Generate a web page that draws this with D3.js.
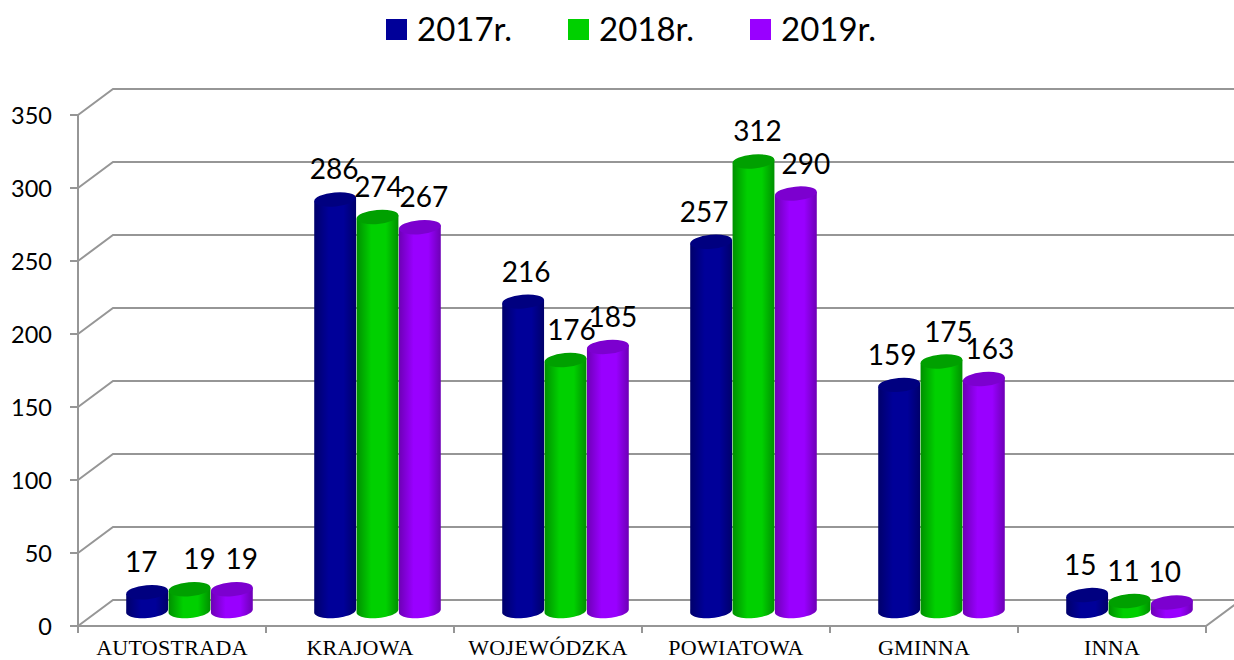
<!DOCTYPE html>
<html>
<head>
<meta charset="utf-8">
<script src="https://cdn.jsdelivr.net/npm/d3@7"></script>
<style>
  html, body { margin: 0; padding: 0; background: #fff; }
  svg { display: block; }
</style>
</head>
<body>
<div id="chart"></div>
<script>
const categories = ['AUTOSTRADA', 'KRAJOWA', 'WOJEWÓDZKA', 'POWIATOWA', 'GMINNA', 'INNA'];
const seriesNames = ['2017r.', '2018r.', '2019r.'];
const values2017 = [17, 286, 216, 257, 159, 15];
const values2018 = [19, 274, 176, 312, 175, 11];
const values2019 = [19, 267, 185, 290, 163, 10];
const yTicks = [0, 50, 100, 150, 200, 250, 300, 350];

const allValues = [values2017, values2018, values2019];
const colors = ['#000099', '#00d000', '#9900ff'];
const darkColors = ['#000080', '#00a000', '#7c00cf'];
const edgeColors = ['#00006b', '#009000', '#6d00b5'];

const width = 1234;
const height = 660;
const depth = { x: 35, y: -26 }; // przesuniecie tylnej sciany

const x = d3.scaleBand().domain(categories).range([78, 1206]).paddingInner(0.324).paddingOuter(0.162);
const xInner = d3.scaleBand().domain(d3.range(3)).range([0, x.bandwidth()]);
const y = d3.scaleLinear().domain([0, 350]).range([626, 115]);

// etykiety w oryginale sa recznie poprzesuwane
const labelNudge = [
  [-6, 10, 10], [-1, 1, 4], [3, 6, 5],
  [-7, 4, 10], [-7, 7, 6], [-7, -6, -7],
];

const svg = d3.select('#chart').append('svg').attr('width', width).attr('height', height);

// gradienty bokow slupkow
const defs = svg.append('defs');
colors.forEach((c, i) => {
  const g = defs.append('linearGradient').attr('id', 'side' + i);
  g.append('stop').attr('offset', '0%').attr('stop-color', edgeColors[i]);
  g.append('stop').attr('offset', '35%').attr('stop-color', c);
  g.append('stop').attr('offset', '70%').attr('stop-color', c);
  g.append('stop').attr('offset', '100%').attr('stop-color', edgeColors[i]);
});

// siatka
const grid = svg.append('g').attr('fill', 'none').attr('stroke', '#969696').attr('stroke-width', 2);
yTicks.forEach((t) => {
  grid.append('path').attr('d', d3.line()([
    [78, y(t)],
    [78 + depth.x, y(t) + depth.y],
    [width, y(t) + depth.y],
  ]));
  grid.append('line').attr('x1', 70).attr('x2', 78).attr('y1', y(t)).attr('y2', y(t));
});
grid.append('line').attr('x1', 78).attr('x2', 78).attr('y1', y(350)).attr('y2', y(0) + 7);
grid.append('path').attr('d', d3.line()([
  [78, y(0)],
  [1206, y(0)],
  [1206 + depth.x, y(0) + depth.y],
]));
d3.range(1, 7).forEach((i) => {
  const tx = 78 + i * x.step();
  grid.append('line').attr('x1', tx).attr('x2', tx).attr('y1', y(0)).attr('y2', y(0) + 7);
});

// opisy osi
svg.append('g').selectAll('text').data(yTicks).enter().append('text')
  .attr('x', 52).attr('y', (d) => y(d) + 9)
  .attr('text-anchor', 'end')
  .style('font-family', 'Lato')
  .style('font-size', '23.5px')
  .attr('fill', '#000')
  .text((d) => d);

svg.append('g').selectAll('text').data(categories).enter().append('text')
  .attr('x', (d) => x(d) + x.bandwidth() / 2)
  .attr('y', 655)
  .attr('text-anchor', 'middle')
  .style('font-family', 'Liberation Serif')
  .style('font-size', '22px')
  .style('letter-spacing', '0.3px')
  .attr('fill', '#000')
  .text((d) => d);

// slupki
const rx = 21;
const ry = 7;
const rot = (-5 * Math.PI) / 180;
const barGroup = svg.append('g');
const labelGroup = svg.append('g');

// punkt na pochylonej elipsie
function ellipsePoint(cx, cy, t) {
  const ex = rx * Math.cos(t);
  const ey = ry * Math.sin(t);
  return [cx + ex * Math.cos(rot) - ey * Math.sin(rot), cy + ex * Math.sin(rot) + ey * Math.cos(rot)];
}
const halfTurn = d3.range(0, 25).map((i) => (Math.PI * i) / 24);

categories.forEach((cat, ci) => {
  allValues.forEach((vals, si) => {
    const v = vals[ci];
    const cx = x(cat) + xInner(si) + xInner.bandwidth() / 2 + depth.x / 2;
    const yTop = y(v) - 9;
    const yBase = y(0) - 15;
    const outline = [
      ellipsePoint(cx, yTop, 0),
      ...halfTurn.map((t) => ellipsePoint(cx, yBase, t)),
      ellipsePoint(cx, yTop, Math.PI),
    ];
    barGroup.append('path')
      .attr('fill', `url(#side${si})`)
      .attr('d', d3.line()(outline) + 'Z');
    barGroup.append('ellipse')
      .attr('cx', cx).attr('cy', yTop).attr('rx', rx).attr('ry', ry)
      .attr('transform', `rotate(-5 ${cx} ${yTop})`)
      .attr('fill', darkColors[si]);
    labelGroup.append('text')
      .attr('x', cx + labelNudge[ci][si])
      .attr('y', yTop - 20)
      .attr('text-anchor', 'middle')
      .style('font-family', 'Lato')
      .style('font-size', '28px')
      .attr('fill', '#000')
      .text(v);
  });
});

// legenda
const legendX = d3.scaleOrdinal().domain(seriesNames).range([386, 568, 750]);
const legend = svg.append('g').selectAll('g').data(seriesNames).enter().append('g')
  .attr('transform', (d) => `translate(${legendX(d)},19)`);
legend.append('rect').attr('width', 21).attr('height', 21).attr('fill', (d, i) => colors[i]);
legend.append('text')
  .attr('x', 31).attr('y', 22)
  .style('font-family', 'Lato')
  .style('font-size', '33px')
  .attr('fill', '#000')
  .text((d) => d);
</script>
</body>
</html>
